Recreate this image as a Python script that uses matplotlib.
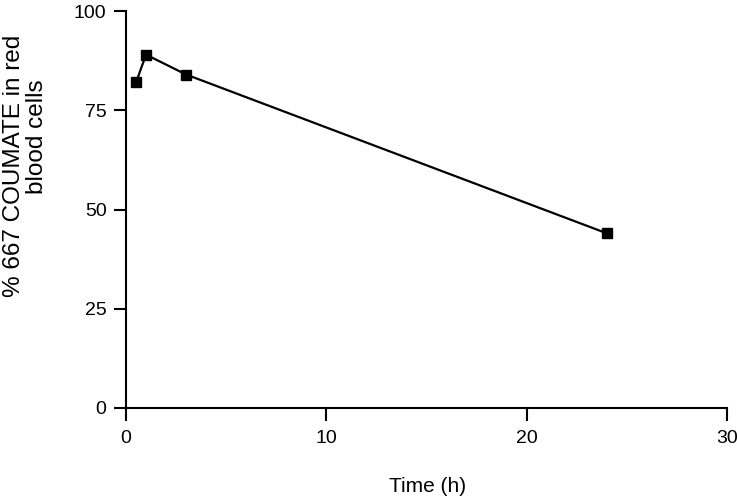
import matplotlib
matplotlib.use("Agg")
import matplotlib.pyplot as plt

plt.rcParams['font.family'] = ['Liberation Sans', 'DejaVu Sans']

time_h = [0.5, 1, 3, 24]
pct_rbc = [82, 89, 84, 44]
xticks = [0, 10, 20, 30]
yticks = [0, 25, 50, 75, 100]

fig = plt.figure(figsize=(7.37, 5.0), dpi=100)
ax = fig.add_axes([126/737, 1-408/500, (727-126)/737, (408-11)/500])

ax.plot(time_h, pct_rbc, color='black', lw=1.6, marker='s', markersize=6.5,
        markerfacecolor='black', markeredgecolor='black')

ax.set_xlim(0, 30)
ax.set_ylim(0, 100)
ax.set_xticks(xticks)
ax.set_yticks(yticks)
for s in ['top', 'right']:
    ax.spines[s].set_visible(False)
for s in ['left', 'bottom']:
    ax.spines[s].set_linewidth(1.5)
ax.tick_params(axis='both', direction='out', width=1.5, labelsize=14, colors='black')
ax.tick_params(axis='y', length=9, pad=5)
ax.tick_params(axis='x', length=9, pad=7)

fig.text(428/737, 1-487/500, 'Time (h)', ha='center', va='center', fontsize=15)
fig.text(14/737, 1-166/500, '% 667 COUMATE in red', rotation=90,
         ha='center', va='center', fontsize=17.5)
fig.text(37/737, 1-137/500, 'blood cells', rotation=90,
         ha='center', va='center', fontsize=17.5)

fig.savefig('out.png', dpi=100)
